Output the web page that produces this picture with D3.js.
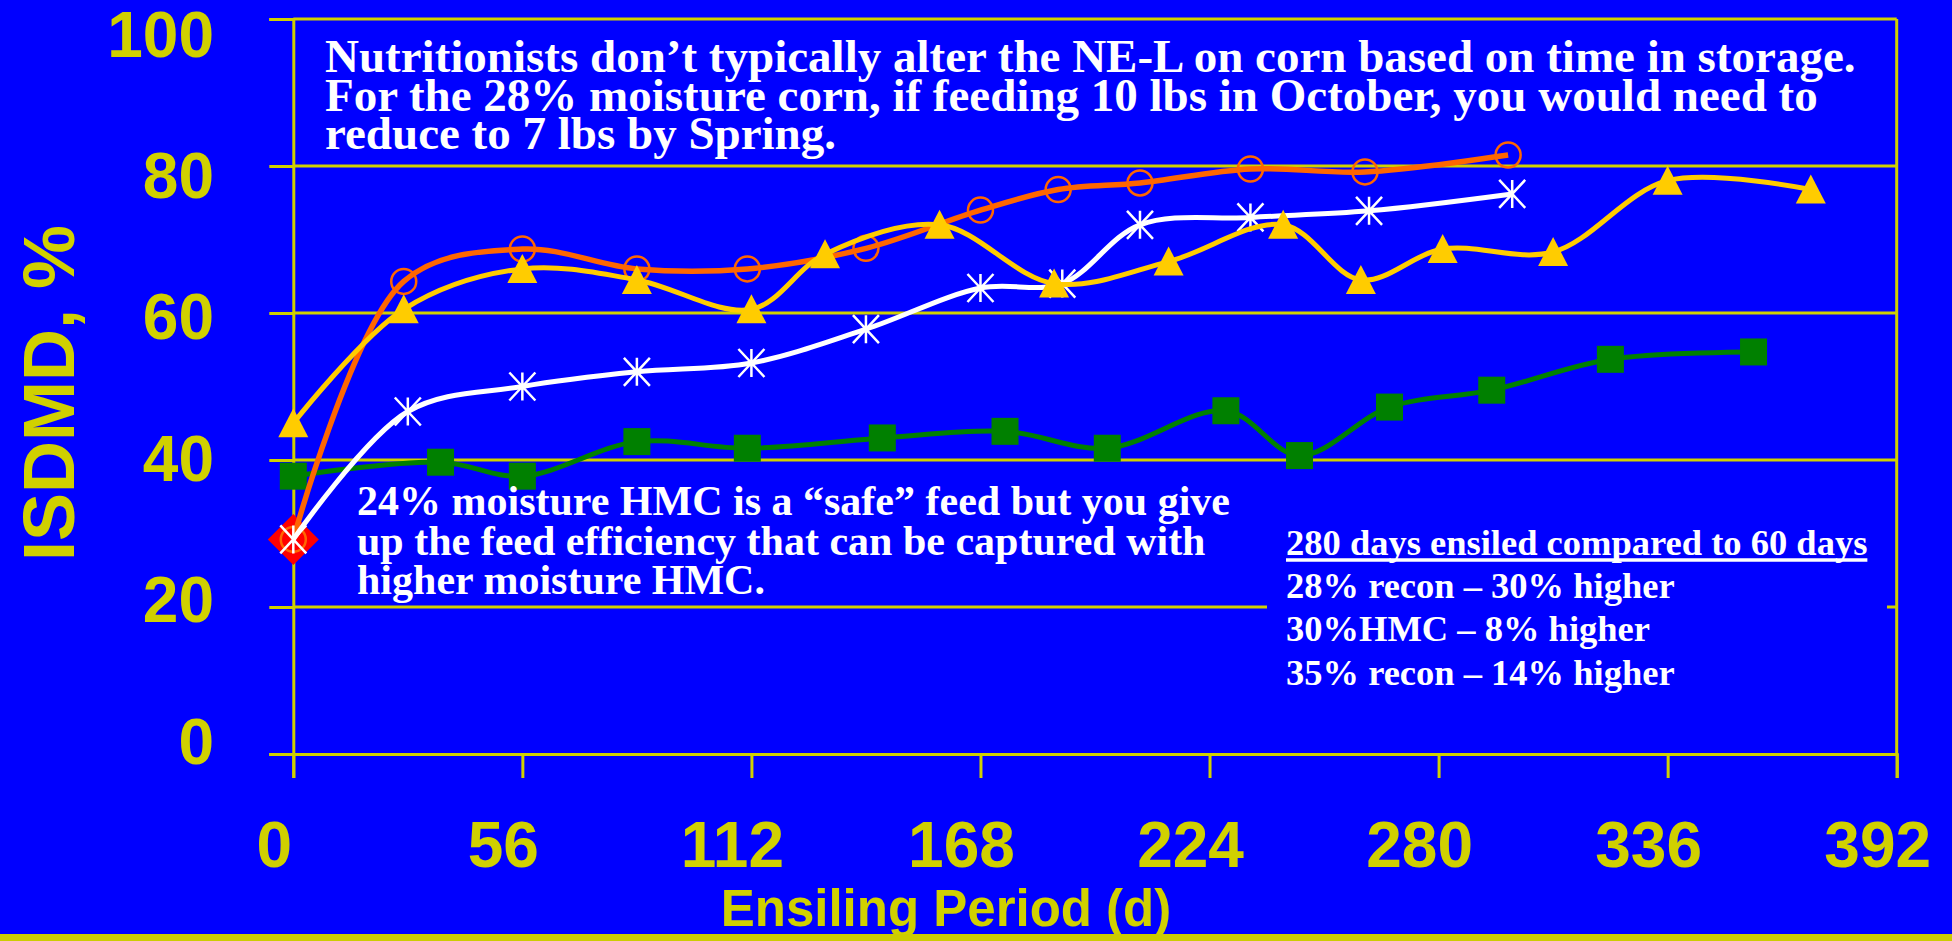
<!DOCTYPE html>
<html>
<head>
<meta charset="utf-8">
<script src="https://cdn.jsdelivr.net/npm/d3@7/dist/d3.min.js"></script>
<style>
  html, body { margin: 0; padding: 0; background: #0000ff; }
  svg { display: block; }
</style>
</head>
<body>
<svg id="chart" width="1952" height="941"></svg>
<script>
// ---- data: in-situ dry matter digestibility by days ensiled ----
const xTicks = [0, 56, 112, 168, 224, 280, 336, 392];
const yTicks = [0, 20, 40, 60, 80, 100];

// green squares
const greenDays   = [0, 36, 56, 84, 111, 144, 174, 199, 228, 246, 268, 293, 322, 357];
const greenValues = [37.8, 39.7, 37.8, 42.5, 41.6, 43, 43.9, 41.6, 46.7, 40.6, 47.2, 49.5, 53.7, 54.7];

// orange open circles
const orangeDays   = [0, 27, 56, 84, 111, 140, 168, 187, 207, 234, 262, 297];
const orangeValues = [29.2, 64.3, 68.7, 66, 66, 68.8, 74, 76.8, 77.7, 79.6, 79.2, 81.5];

// white asterisks
const whiteDays   = [0, 28, 56, 84, 112, 140, 168, 188, 207, 234, 263, 298];
const whiteValues = [29.2, 46.6, 50, 52, 53.2, 57.8, 63.4, 64, 72, 73, 73.9, 76.2];

// gold triangles
const goldDays   = [0, 27, 56, 84, 112, 130, 158, 186, 214, 242, 261, 281, 308, 336, 371];
const goldValues = [45, 60.5, 66, 64.5, 60.5, 68, 72, 64, 67, 72, 64.5, 68.7, 68.3, 78, 76.8];

// red diamond at the start
const diamondDays   = [0];
const diamondValues = [29.2];

const topNote = [
  "Nutritionists don\u2019t typically alter the NE-L on corn based on time in storage.",
  "For the 28% moisture corn, if feeding 10 lbs in October, you would need to",
  "reduce to 7 lbs by Spring."
];
const leftNote = [
  "24% moisture HMC is a \u201csafe\u201d feed but you give",
  "up the feed efficiency that can be captured with",
  "higher moisture HMC."
];
const boxTitle = "280 days ensiled compared to 60 days";
const boxLines = [
  "28% recon \u2013 30% higher",
  "30%HMC \u2013 8% higher",
  "35% recon \u2013 14% higher"
];

// ---- layout ----
const YEL = "#d0d000";
const SANS = "'Liberation Sans', Arial, sans-serif";
const SERIF = "'Liberation Serif', 'Times New Roman', serif";

const svg = d3.select("#chart");
svg.append("rect").attr("width", 1952).attr("height", 941).attr("fill", "#0000ff");

const x = d3.scaleLinear().domain([0, 392]).range([293.3, 1896.7]);
const y = d3.scaleLinear().domain([0, 100]).range([754, 19]);
// tick labels sit on a slightly tighter ladder than the gridlines
const yLab = d3.scaleLinear().domain([0, 100]).range([740.5, 33.5]);

// gridlines
svg.append("g").selectAll("line").data(yTicks.filter(d => d > 0)).join("line")
  .attr("x1", x(0)).attr("x2", x(392))
  .attr("y1", d => y(d)).attr("y2", d => y(d))
  .attr("stroke", YEL).attr("stroke-width", 3);

// axes (ticks only, labels drawn separately)
const yAxis = svg.append("g").attr("transform", `translate(${x(0)},0)`)
  .call(d3.axisLeft(y).tickValues(yTicks).tickSize(24).tickFormat(""));
const xAxis = svg.append("g").attr("transform", `translate(0,${y(0)})`)
  .call(d3.axisBottom(x).tickValues(xTicks).tickSize(24).tickFormat(""));
[yAxis, xAxis].forEach(g => {
  g.selectAll("line").attr("stroke", YEL).attr("stroke-width", 3);
  g.select(".domain").attr("stroke", YEL).attr("stroke-width", 3);
});
// right border
svg.append("line").attr("x1", x(392)).attr("x2", x(392)).attr("y1", y(100)).attr("y2", y(0))
  .attr("stroke", YEL).attr("stroke-width", 3);

// tick labels
svg.append("g").selectAll("text").data(yTicks).join("text")
  .attr("x", 214).attr("y", d => yLab(d)).attr("dy", "0.36em")
  .attr("text-anchor", "end")
  .attr("font-family", SANS).attr("font-weight", "bold").attr("font-size", 64)
  .attr("fill", YEL).text(d => d);
svg.append("g").selectAll("text").data(xTicks).join("text")
  .attr("x", d => x(d) - 19).attr("y", 867)
  .attr("text-anchor", "middle")
  .attr("font-family", SANS).attr("font-weight", "bold").attr("font-size", 64)
  .attr("fill", YEL).text(d => d);

// axis titles
svg.append("text").attr("transform", "translate(73.7,393) rotate(-90)")
  .attr("text-anchor", "middle")
  .attr("font-family", SANS).attr("font-weight", "bold").attr("font-size", 72)
  .attr("fill", YEL).text("ISDMD, %");
svg.append("text").attr("x", 946).attr("y", 926)
  .attr("text-anchor", "middle")
  .attr("font-family", SANS).attr("font-weight", "bold").attr("font-size", 51)
  .attr("fill", YEL).text("Ensiling Period (d)");

// bottom rule
svg.append("rect").attr("x", 0).attr("y", 934).attr("width", 1952).attr("height", 7).attr("fill", "#cccc00");

// ---- series ----
const line = d3.line().x(d => x(d[0])).y(d => y(d[1])).curve(d3.curveCatmullRom.alpha(0.5));
const pts = (days, vals) => days.map((d, i) => [d, vals[i]]);

const plot = svg.append("g");

// diamond (bottom layer)
plot.append("g").selectAll("path").data(pts(diamondDays, diamondValues)).join("path")
  .attr("transform", d => `translate(${x(d[0])},${y(d[1])})`)
  .attr("d", "M0,-25.5L25.5,0L0,25.5L-25.5,0Z")
  .attr("fill", "#ff0000");

// green squares
const green = pts(greenDays, greenValues);
plot.append("path").datum(green).attr("d", line)
  .attr("fill", "none").attr("stroke", "#008000").attr("stroke-width", 5).attr("stroke-linejoin", "round");
plot.append("g").selectAll("rect").data(green).join("rect")
  .attr("x", d => x(d[0]) - 13.5).attr("y", d => y(d[1]) - 13.5)
  .attr("width", 27).attr("height", 27).attr("fill", "#008000");

// orange circles
const orange = pts(orangeDays, orangeValues);
plot.append("path").datum(orange).attr("d", line)
  .attr("fill", "none").attr("stroke", "#ff6600").attr("stroke-width", 5.5).attr("stroke-linejoin", "round");
plot.append("g").selectAll("circle").data(orange).join("circle")
  .attr("cx", d => x(d[0])).attr("cy", d => y(d[1])).attr("r", 12.5)
  .attr("fill", "none").attr("stroke", "#ff6600").attr("stroke-width", 2.5);

// white asterisks
const white = pts(whiteDays, whiteValues);
plot.append("path").datum(white).attr("d", line)
  .attr("fill", "none").attr("stroke", "#ffffff").attr("stroke-width", 5).attr("stroke-linejoin", "round");
plot.append("g").selectAll("path").data(white).join("path")
  .attr("transform", d => `translate(${x(d[0])},${y(d[1])})`)
  .attr("d", "M-13,-14L13,14M13,-14L-13,14M0,-14L0,14")
  .attr("fill", "none").attr("stroke", "#ffffff").attr("stroke-width", 2.5);

// gold triangles
const gold = pts(goldDays, goldValues);
plot.append("path").datum(gold).attr("d", line)
  .attr("fill", "none").attr("stroke", "#ffcc00").attr("stroke-width", 5).attr("stroke-linejoin", "round");
plot.append("g").selectAll("path").data(gold).join("path")
  .attr("transform", d => `translate(${x(d[0])},${y(d[1])})`)
  .attr("d", "M0,-15L15,14L-15,14Z")
  .attr("fill", "#ffcc00");

// ---- notes ----
const note = svg.append("g").attr("font-family", SERIF).attr("font-weight", "bold").attr("fill", "#ffffff");
note.append("g").selectAll("text").data(topNote).join("text")
  .attr("x", 325).attr("y", (d, i) => [72, 110.5, 149][i])
  .attr("font-size", 47).text(d => d);
note.append("g").selectAll("text").data(leftNote).join("text")
  .attr("x", 357).attr("y", (d, i) => [515, 555, 594][i])
  .attr("font-size", 42).text(d => d);

// summary box
svg.append("rect").attr("x", 1267).attr("y", 500).attr("width", 620).attr("height", 220).attr("fill", "#0000ff");
const box = svg.append("g").attr("font-family", SERIF).attr("font-weight", "bold").attr("fill", "#ffffff").attr("font-size", 36.5);
const t0 = box.append("text").attr("x", 1286).attr("y", 554.6).text(boxTitle);
const w0 = t0.node().getComputedTextLength();
box.append("line").attr("x1", 1286).attr("x2", 1286 + w0).attr("y1", 560).attr("y2", 560)
  .attr("stroke", "#ffffff").attr("stroke-width", 3.5);
box.selectAll("text.l").data(boxLines).join("text").attr("class", "l")
  .attr("x", 1286).attr("y", (d, i) => [597.5, 641, 685][i]).text(d => d);
</script>
</body>
</html>
